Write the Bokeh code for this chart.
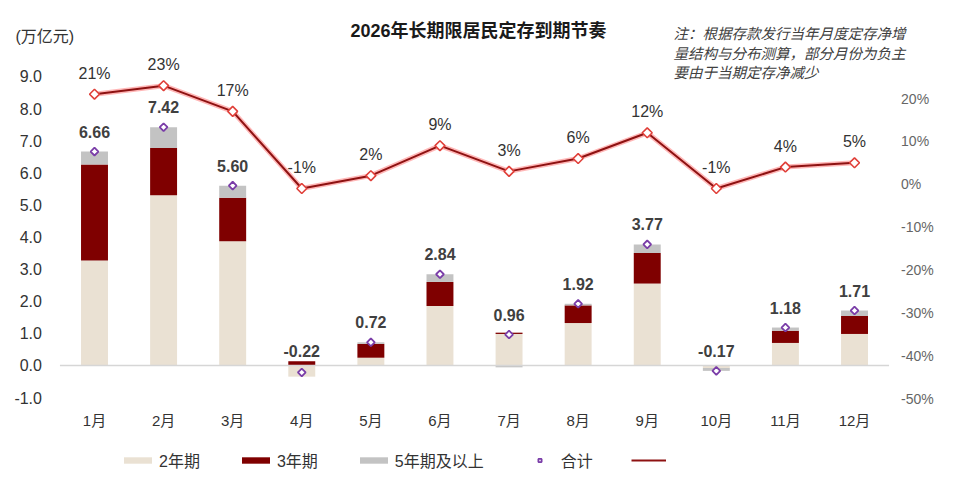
import math
from bokeh.plotting import figure
from bokeh.models import (ColumnDataSource, Range1d, LinearAxis, FixedTicker, Label,
                          Legend, LegendItem, NumeralTickFormatter, PrintfTickFormatter)
from bokeh.core.properties import value
from bokeh.embed import file_html
from bokeh.resources import INLINE

# ---------------- data ----------------
months = ["1月", "2月", "3月", "4月", "5月", "6月", "7月", "8月", "9月", "10月", "11月", "12月"]
y2 = [3.27, 5.30, 3.87, -0.35, 0.24, 1.85, 0.98, 1.32, 2.55, -0.08, 0.70, 0.98]   # 2年期
y3 = [2.99, 1.47, 1.35, 0.13, 0.43, 0.75, 0.04, 0.55, 0.95, 0.00, 0.38, 0.56]     # 3年期
y5 = [0.40, 0.65, 0.38, 0.00, 0.05, 0.24, -0.06, 0.05, 0.27, -0.09, 0.10, 0.17]   # 5年期及以上
totals = [6.66, 7.42, 5.60, -0.22, 0.72, 2.84, 0.96, 1.92, 3.77, -0.17, 1.18, 1.71]
pct = [21, 23, 17, -1, 2, 9, 3, 6, 12, -1, 4, 5]
left_ticks = [-1, 0, 1, 2, 3, 4, 5, 6, 7, 8, 9]
right_ticks = [-50, -40, -30, -20, -10, 0, 10, 20]
series_names = ["2年期", "3年期", "5年期及以上"]
title_text = "2026年长期限居民定存到期节奏"
unit_text = "(万亿元)"
note_lines = ["注：根据存款发行当年月度定存净增", "量结构与分布测算，部分月份为负主", "要由于当期定存净减少"]

# ---------------- style / layout ----------------
C_BEIGE = "#EAE1D3"
C_DARK = "#7F0000"
C_GRAY = "#C3C3C3"
C_LINE = "#8E1212"
C_GLOW = "#FF4A4A"
C_PURPLE = "#7A3DA8"
FONT = "Liberation Sans, Noto Sans CJK SC"
CJK = "Noto Sans CJK SC"
W, H = 956, 488

xs = list(range(len(months)))
x_lo, x_hi = -0.5, len(months) - 0.5

p = figure(width=W, height=H,
           x_range=Range1d(-1.3605, 12.476), y_range=Range1d(-3.834, 11.367),
           output_backend="svg", toolbar_location=None,
           min_border_left=0, min_border_right=0, min_border_top=0, min_border_bottom=0)
p.extra_y_ranges = {"pct": Range1d(-71.0, 42.87)}
p.outline_line_color = None
p.xgrid.visible = False
p.ygrid.visible = False

# stacked bars (positive and negative parts stacked separately)
pos = [0.0] * len(months)
neg = [0.0] * len(months)
bar_renderers = []
for vals, col in zip([y2, y3, y5], [C_BEIGE, C_DARK, C_GRAY]):
    bottoms, tops = [], []
    for i, v in enumerate(vals):
        if v >= 0:
            bottoms.append(pos[i]); tops.append(pos[i] + v); pos[i] += v
        else:
            bottoms.append(neg[i]); tops.append(neg[i] + v); neg[i] += v
    src = ColumnDataSource(dict(x=xs, b=bottoms, t=tops))
    r = p.vbar(x="x", bottom="b", top="t", width=0.39, fill_color=col, line_color=None, source=src)
    bar_renderers.append(r)

# zero baseline across the category area
p.segment(x0=[x_lo], y0=[0], x1=[x_hi], y1=[0], line_color="#D6D6D6", line_width=1.5)

# totals
tot_src = ColumnDataSource(dict(x=xs, v=totals,
                                ly=[max(t, 0) for t in totals],
                                off=[-20 if t > 0 else -14 for t in totals],
                                txt=["%.2f" % t for t in totals]))
r_tot = p.scatter(x="x", y="v", marker="square", angle=math.pi / 4, size=5.5,
                  fill_color="white", line_color=C_PURPLE, line_width=1.8, source=tot_src)
p.text(x="x", y="ly", text="txt", y_offset="off", source=tot_src, text_align="center",
       text_baseline="middle", text_font=value(FONT), text_font_size="16px",
       text_font_style="bold", text_color="#404040")

# pct line
pct_src = ColumnDataSource(dict(x=xs, v=pct, txt=["%d%%" % v for v in pct]))
p.line(x="x", y="v", y_range_name="pct", line_color=C_GLOW, line_alpha=0.4, line_width=5, source=pct_src)
r_line = p.line(x="x", y="v", y_range_name="pct", line_color=C_LINE, line_width=2, source=pct_src)
p.scatter(x="x", y="v", y_range_name="pct", marker="square", angle=math.pi / 4, size=7,
          fill_color="white", line_color="#E0403A", line_width=1.6, source=pct_src)
p.text(x="x", y="v", text="txt", y_range_name="pct", y_offset=-21, source=pct_src,
       text_align="center", text_baseline="middle", text_font=value(FONT),
       text_font_size="16px", text_color="#333333")

# axes, pinned to the edges of the category area
def style_axis(ax, size, color, standoff):
    ax.axis_line_color = None
    ax.major_tick_line_color = None
    ax.minor_tick_line_color = None
    ax.major_tick_out = 0
    ax.major_tick_in = 0
    ax.minor_tick_out = 0
    ax.minor_tick_in = 0
    ax.major_label_standoff = standoff
    ax.major_label_text_font = FONT
    ax.major_label_text_font_size = size
    ax.major_label_text_color = color

xa = p.xaxis[0]
xa.ticker = FixedTicker(ticks=xs)
xa.major_label_overrides = {i: m for i, m in zip(xs, months)}
xa.fixed_location = -1
style_axis(xa, "15px", "#333333", 14)

ya = p.yaxis[0]
ya.ticker = FixedTicker(ticks=left_ticks)
ya.formatter = NumeralTickFormatter(format="0.0")
ya.fixed_location = x_lo
style_axis(ya, "16px", "#333333", 18)

ra = LinearAxis(y_range_name="pct", ticker=FixedTicker(ticks=right_ticks),
                formatter=PrintfTickFormatter(format="%d%%"), fixed_location=x_hi)
style_axis(ra, "14px", "#666666", 12)
p.add_layout(ra, "right")

# title, unit, note
p.add_layout(Label(x=478, y=H - 30, x_units="screen", y_units="screen", text=title_text,
                   text_align="center", text_baseline="middle", text_font=FONT,
                   text_font_size="18px", text_font_style="bold", text_color="#1a1a1a"))
p.add_layout(Label(x=15, y=H - 36, x_units="screen", y_units="screen", text=unit_text,
                   text_align="left", text_baseline="middle", text_font=FONT,
                   text_font_size="16px", text_color="#333333"))
for i, line in enumerate(note_lines):
    p.add_layout(Label(x=673, y=H - 32 - 19.5 * i, x_units="screen", y_units="screen", text=line,
                       text_align="left", text_baseline="middle", text_font=CJK,
                       text_font_size="14.5px", text_font_style="italic", text_color="#404040"))

# legend
items = [LegendItem(label=series_names[0], renderers=[bar_renderers[0]]),
         LegendItem(label=series_names[1], renderers=[bar_renderers[1]]),
         LegendItem(label=series_names[2], renderers=[bar_renderers[2]]),
         LegendItem(label="合计", renderers=[r_tot]),
         LegendItem(label=" ", renderers=[r_line])]
legend = Legend(items=items, orientation="horizontal", location=(120, H - 472),
                border_line_color=None, background_fill_alpha=0, glyph_width=35,
                glyph_height=8, label_standoff=4, spacing=38, padding=0, margin=0,
                label_text_font=FONT, label_text_font_size="16px", label_text_color="#333333")
p.add_layout(legend, "center")

open("out.html", "w").write(file_html(p, INLINE))
